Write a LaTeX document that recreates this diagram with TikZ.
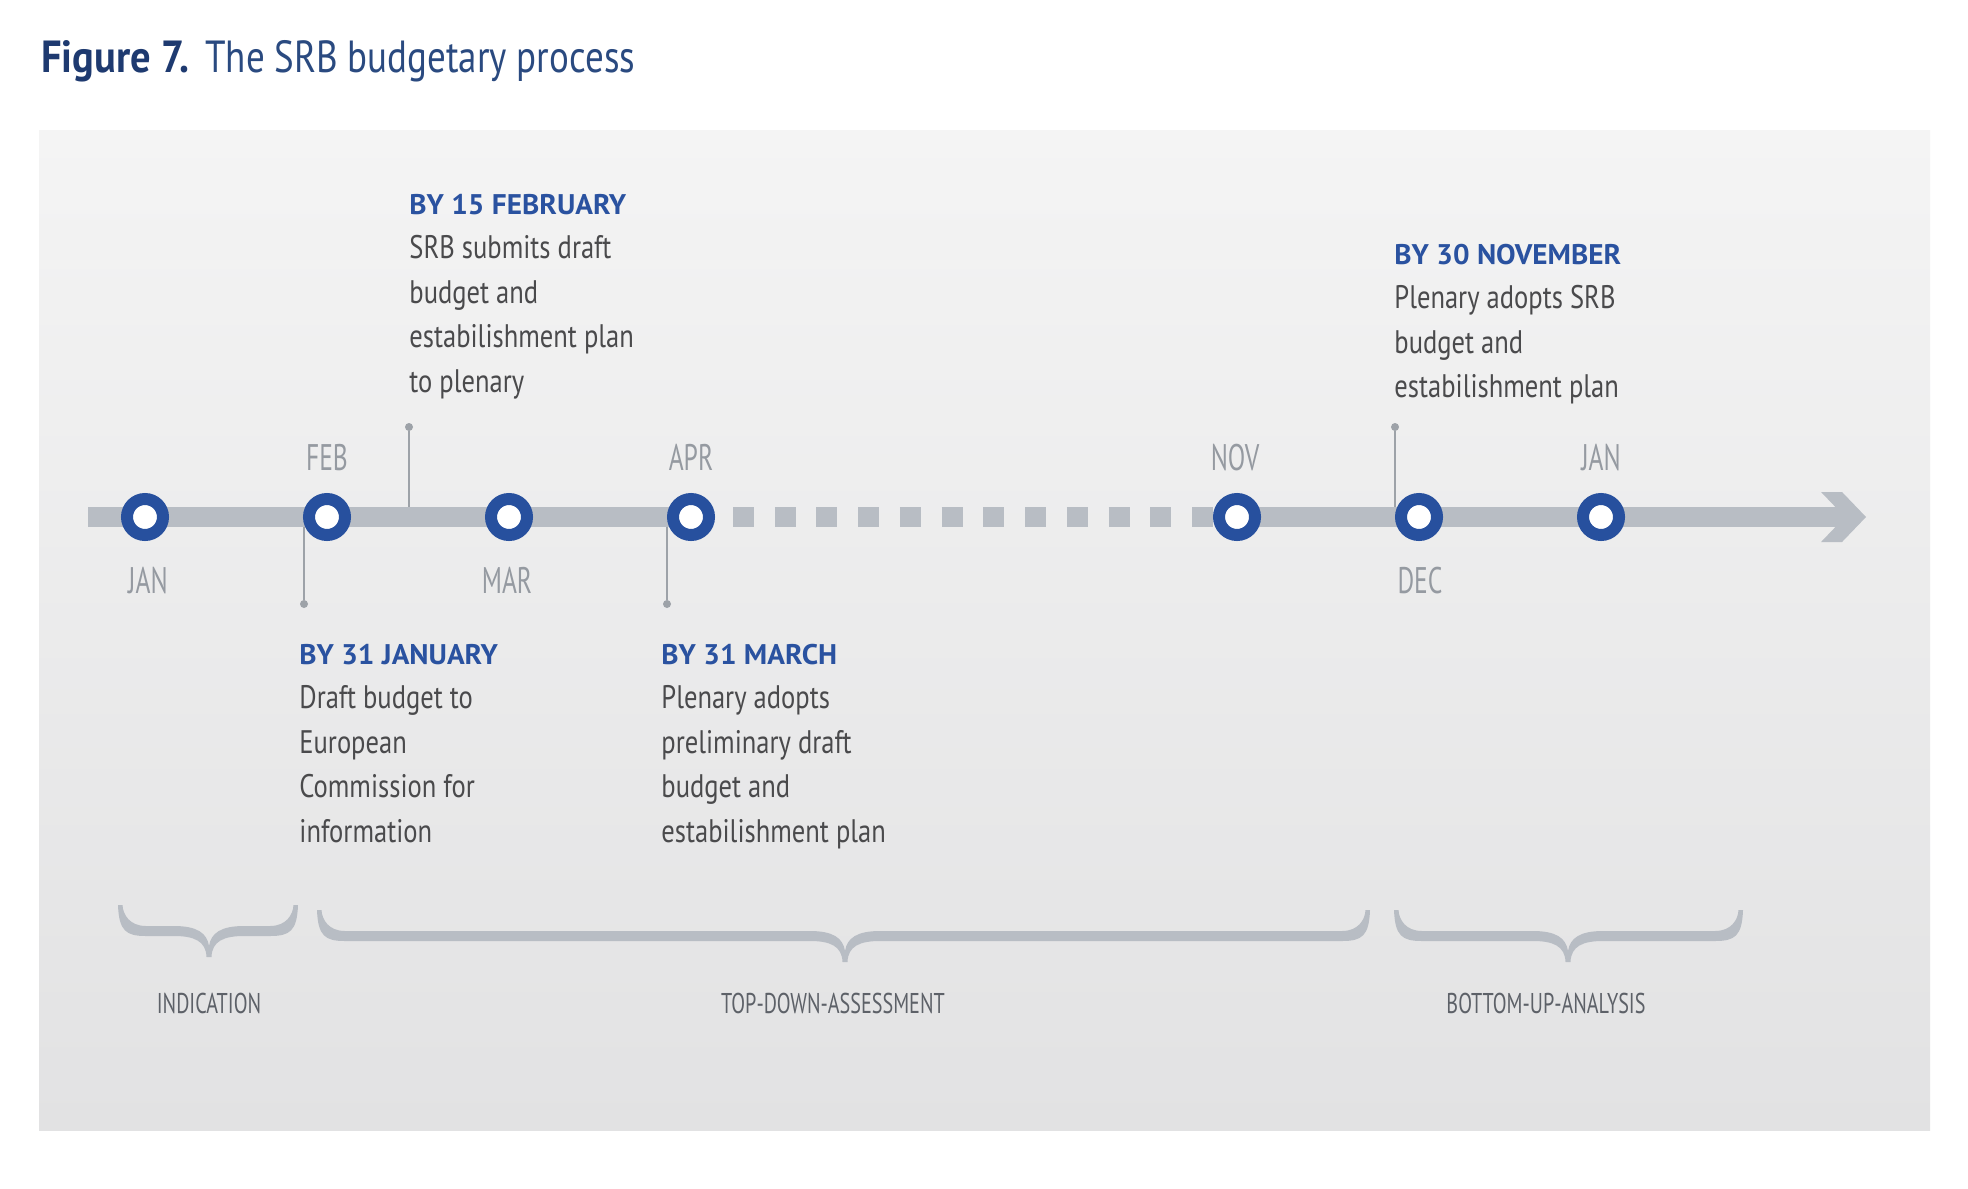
\documentclass[tikz,border=0pt]{standalone}
\usepackage{fontspec}
\setmainfont{PT Sans}
\newfontfamily\bodyff[FakeStretch=0.815]{PT Sans}
\newfontfamily\headff[FakeStretch=1.03]{PT Sans}
\newfontfamily\monthff[FakeStretch=0.69]{PT Sans}
\newfontfamily\phaseff[FakeStretch=0.705]{PT Sans}
\newfontfamily\figff[FakeStretch=0.9]{PT Sans}
\newfontfamily\titleff[FakeStretch=0.822]{PT Sans}
\definecolor{paneltop}{HTML}{F4F4F4}
\definecolor{panelbot}{HTML}{E2E2E3}
\definecolor{tlgray}{HTML}{B8BDC4}
\definecolor{ringblue}{HTML}{27509E}
\definecolor{headblue}{HTML}{2A52A0}
\definecolor{bodygray}{HTML}{4A4A4C}
\definecolor{monthgray}{HTML}{959AA1}
\definecolor{tickgray}{HTML}{9DA2A8}
\definecolor{phasegray}{HTML}{5D6168}
\definecolor{navyA}{HTML}{1E3A70}
\definecolor{navyB}{HTML}{2A4A80}
\pgfdeclarelayer{bg}
\pgfdeclarelayer{mid}
\pgfsetlayers{bg,mid,main}
\newcommand{\drawbrace}[6]{% L R C T B P
  \fill[tlgray] (#1,#4) .. controls ({#1+1},#5) and ({#1+8},{#5+5}) .. ({#1+28},{#5+5})
    -- ({#3-35},{#5+5}) .. controls ({#3-15},{#5+5}) and ({#3-3},{#5+10}) .. ({#3-2.5},#6)
    -- ({#3+2.5},#6) .. controls ({#3+3},{#5+10}) and ({#3+15},{#5+5}) .. ({#3+35},{#5+5})
    -- ({#2-28},{#5+5}) .. controls ({#2-8},{#5+5}) and ({#2-1},#5) .. (#2,#4)
    -- ({#2-4.5},#4) .. controls ({#2-5},{#4+10}) and ({#2-12},{#5-5}) .. ({#2-28},{#5-5})
    -- ({#3+35},{#5-5}) .. controls ({#3+12},{#5-5}) and ({#3+2},{#5+2}) .. (#3,{#5+15})
    .. controls ({#3-2},{#5+2}) and ({#3-12},{#5-5}) .. ({#3-35},{#5-5})
    -- ({#1+28},{#5-5}) .. controls ({#1+12},{#5-5}) and ({#1+5},{#4+10}) .. ({#1+4.5},#4) -- cycle;}
\begin{document}
\begin{tikzpicture}[x=0.5pt,y=-0.5pt,
  ring/.style={circle,draw=ringblue,line width=6pt,fill=white,minimum size=18pt,inner sep=0pt},
  tl/.style={draw=tlgray,line width=10pt,line cap=butt},
  tick/.style={draw=tickgray,line width=1pt},
  tdot/.style={circle,fill=tickgray,inner sep=0pt,minimum size=4pt},
  monthlbl/.style={font=\monthff\fontsize{18.5pt}{22pt}\selectfont,text=monthgray,inner sep=0pt,anchor=base},
  headlbl/.style={font=\headff\bfseries\fontsize{14.2pt}{17pt}\selectfont,text=headblue,inner sep=0pt,anchor=base west},
  bodylbl/.style={font=\bodyff\fontsize{16.3pt}{22pt}\selectfont,text=bodygray,inner sep=0pt,anchor=base west},
  phaselbl/.style={font=\phaseff\fontsize{14.3pt}{17pt}\selectfont,text=phasegray,inner sep=0pt,anchor=base},
  ]
\useasboundingbox (0,0) rectangle (1968,1188);
\begin{pgfonlayer}{bg}
  \fill[white] (0,0) rectangle (1968,1188);
  \shade[top color=paneltop,bottom color=panelbot] (39,130) rectangle (1930,1130);
\end{pgfonlayer}
% title
\node[font=\figff\bfseries\fontsize{22.5pt}{27pt}\selectfont,text=navyA,inner sep=0pt,anchor=base west] (fig) at (41,73) {Figure 7.};
\node[font=\titleff\fontsize{22.5pt}{27pt}\selectfont,text=navyB,inner sep=0pt,anchor=base west] (figtitle) at (205,73) {The SRB budgetary process};
% rings
\node[ring] (jan1) at (145,517) {};
\node[ring] (feb) at (327,517) {};
\node[ring] (mar) at (509,517) {};
\node[ring] (apr) at (691,517) {};
\node[ring] (nov) at (1237,517) {};
\node[ring] (dec) at (1419,517) {};
\node[ring] (jan2) at (1601,517) {};
\coordinate (tstart) at (88,517);
\coordinate (dstart) at (733,517);
\coordinate (tend) at (1846,517);
% tick dots
\node[tdot] (d15feb) at (409,427) {};
\node[tdot] (d31jan) at (304,604) {};
\node[tdot] (d31mar) at (667,604) {};
\node[tdot] (d30nov) at (1395,427) {};
\coordinate (a15feb) at (409,517);
\coordinate (a31jan) at (304,517);
\coordinate (a31mar) at (667,517);
\coordinate (a30nov) at (1395,517);
\begin{pgfonlayer}{mid}
  \draw[tick] (a15feb) -- (d15feb);
  \draw[tick] (a31jan) -- (d31jan);
  \draw[tick] (a31mar) -- (d31mar);
  \draw[tick] (a30nov) -- (d30nov);
  \draw[tl] (tstart) -- (jan1.center) -- (feb.center) -- (mar.center) -- (apr.center);
  \draw[tl,dash pattern=on 10.435pt off 10.435pt] (dstart) -- (nov.center);
  \draw[tl] (nov.center) -- (dec.center) -- (jan2.center) -- (tend);
  \fill[tlgray] (1821,492) -- (1842,492) -- (1866,517) -- (1842,542) -- (1821,542) -- (1845,517) -- cycle;
\end{pgfonlayer}
% month labels
\node[monthlbl] (lfeb) at (327,470) {FEB};
\node[monthlbl] (lapr) at (691,470) {APR};
\node[monthlbl] (lnov) at (1235,470) {NOV};
\node[monthlbl] (ljan2) at (1601,470) {JAN};
\node[monthlbl] (ljan1) at (148,593) {JAN};
\node[monthlbl] (lmar) at (507,593) {MAR};
\node[monthlbl] (ldec) at (1420,593) {DEC};
% text blocks
\node[headlbl] (h15feb) at (409,214) {BY 15 FEBRUARY};
\node[bodylbl] (b15feba) at (409,258.5) {SRB submits draft};
\node[bodylbl] (b15febb) at (409,303) {budget and};
\node[bodylbl] (b15febc) at (409,347.5) {estabilishment plan};
\node[bodylbl] (b15febd) at (409,392) {to plenary};
\node[headlbl] (h30nov) at (1394,264) {BY 30 NOVEMBER};
\node[bodylbl] (b30nova) at (1394,308.5) {Plenary adopts SRB};
\node[bodylbl] (b30novb) at (1394,353) {budget and};
\node[bodylbl] (b30novc) at (1394,397.5) {estabilishment plan};
\node[headlbl] (h31jan) at (299,664) {BY 31 JANUARY};
\node[bodylbl] (b31jana) at (299,708.5) {Draft budget to};
\node[bodylbl] (b31janb) at (299,753) {European};
\node[bodylbl] (b31janc) at (299,797.5) {Commission for};
\node[bodylbl] (b31jand) at (299,842) {information};
\node[headlbl] (h31mar) at (661,664) {BY 31 MARCH};
\node[bodylbl] (b31mara) at (661,708.5) {Plenary adopts};
\node[bodylbl] (b31marb) at (661,753) {preliminary draft};
\node[bodylbl] (b31marc) at (661,797.5) {budget and};
\node[bodylbl] (b31mard) at (661,842) {estabilishment plan};
% braces
\drawbrace{118}{298}{209}{905}{931}{957}
\drawbrace{317}{1370}{845}{910}{936}{962}
\drawbrace{1394}{1743}{1568}{910}{936}{962}
\node[phaselbl] (pind) at (209,1013) {INDICATION};
\node[phaselbl] (ptop) at (833,1013) {TOP-DOWN-ASSESSMENT};
\node[phaselbl] (pbot) at (1546,1013) {BOTTOM-UP-ANALYSIS};
\end{tikzpicture}
\end{document}
